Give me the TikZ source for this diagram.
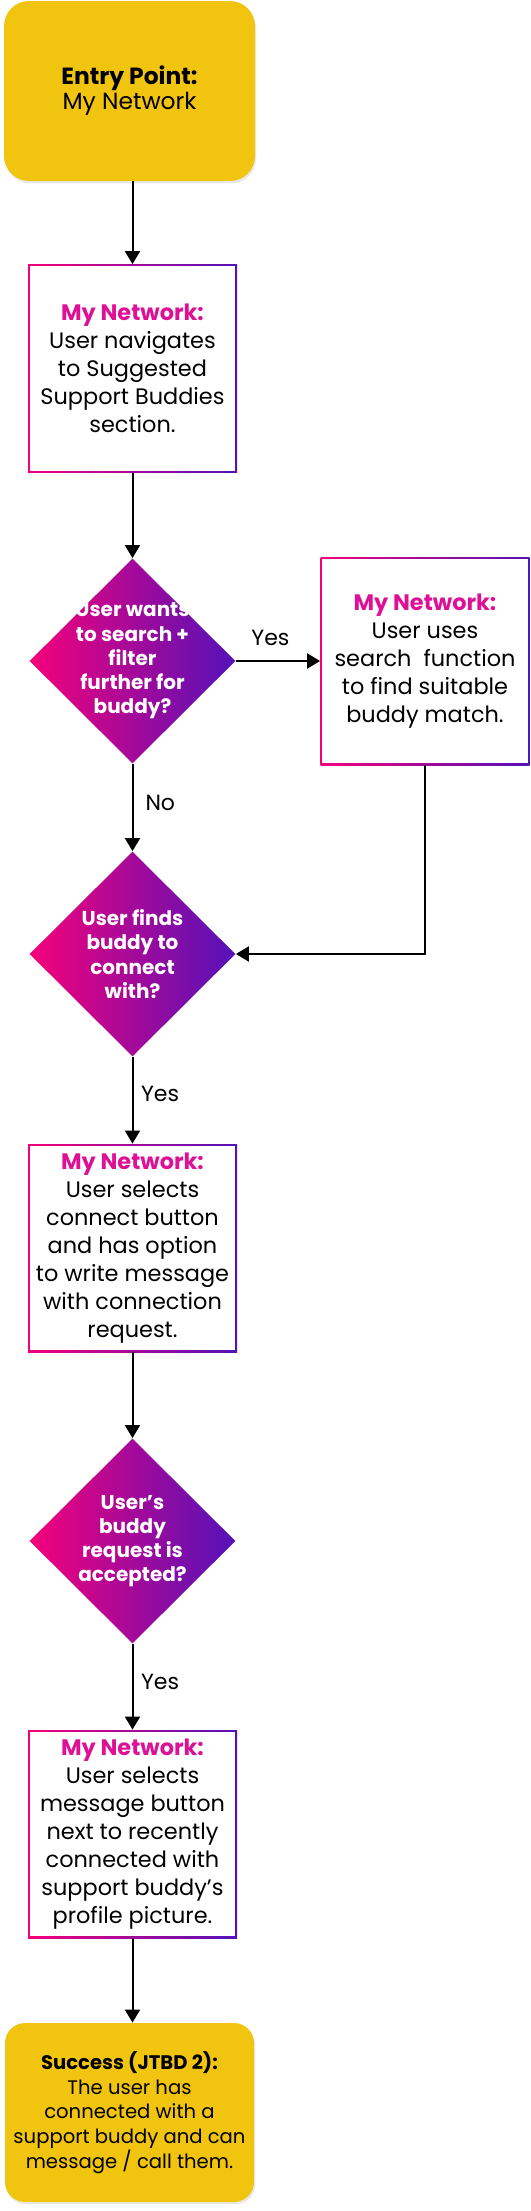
\documentclass[tikz,border=0pt]{standalone}
\usepackage{fontspec}
\setmainfont{Poppins}
\usetikzlibrary{arrows.meta,shapes.geometric,shadows}
\begin{document}
\begin{tikzpicture}[x=0.5pt,y=-0.5pt]
            \definecolor{sun_color}{RGB}{241,196,15}
            \definecolor{pink_color}{RGB}{245,0,122}
            \definecolor{violet_color}{RGB}{84,18,184}
            \definecolor{title_color}{RGB}{222,16,150}
            \tikzstyle{every node} = [align=center, inner sep=0pt]
            \tikzstyle{terminal} = [fill=sun_color, drop shadow={opacity=0.18, shadow xshift=0.6pt, shadow yshift=-1.2pt}]
            \tikzstyle{stepbox} = [minimum width=104.5pt, minimum height=104pt, font=\fontsize{11.2}{14}\selectfont, path picture={
                \shade[left color=pink_color, right color=violet_color] (path picture bounding box.south west) rectangle (path picture bounding box.north east);
                \fill[white] ([shift={(0.85pt,-0.85pt)}]path picture bounding box.north west) rectangle ([shift={(-0.85pt,0.85pt)}]path picture bounding box.south east);}]
            \tikzstyle{decision} = [diamond, minimum width=103pt, minimum height=102.5pt, left color=pink_color, right color=violet_color]
            \tikzstyle{dtext} = [text=white, font=\bfseries\fontsize{10}{12.1}\selectfont]
            \tikzstyle{ann} = [font=\fontsize{11}{13}\selectfont]
            \tikzstyle{arr} = [line width=1pt, -{Triangle[width=7.5pt,length=6.5pt]}]
            \useasboundingbox (0,0) rectangle (530,2211);
            \node[terminal, rounded corners=12.5pt, minimum width=125.5pt, minimum height=90pt, font=\fontsize{11.7}{12.5}\selectfont] (entry) at (129.5,91) {\textbf{Entry Point:}\\My Network};
            \node[stepbox] (b1) at (132.5,368.5) {\textcolor{title_color}{\textbf{My Network:}}\\User navigates\\to Suggested\\Support Buddies\\section.};
            \node[decision] (d1) at (132.5,661) {};
            \node[dtext] (d1t) at (d1) {User wants\\to search +\\filter\\further for\\buddy?};
            \node[stepbox] (b2) at (425,661) {\textcolor{title_color}{\textbf{My Network:}}\\User uses\\search\ \ function\\to find suitable\\buddy match.};
            \node[decision] (d2) at (132.5,954) {};
            \node[dtext] (d2t) at (d2) {User finds\\buddy to\\connect\\with?};
            \node[stepbox] (b3) at (132.5,1248) {\textcolor{title_color}{\textbf{My Network:}}\\User selects\\connect button\\and has option\\to write message\\with connection\\request.};
            \node[decision] (d3) at (132.5,1541) {};
            \node[dtext] (d3t) at (d3) {User’s\\buddy\\request is\\accepted?};
            \node[stepbox] (b4) at (132.5,1834) {\textcolor{title_color}{\textbf{My Network:}}\\User selects\\message button\\next to recently\\connected with\\support buddy’s\\profile picture.};
            \node[terminal, rounded corners=10pt, minimum width=124.5pt, minimum height=89.5pt, font=\fontsize{9.8}{12.4}\selectfont] (succ) at (129.5,2112.5) {\textbf{Success (JTBD 2):}\\The user has\\connected with a\\support buddy and can\\message / call them.};
            \draw[arr] (b1 |- entry.south) -- (b1);
            \draw[arr] (b1) -- (d1);
            \draw[arr] (d1) -- node[ann, above=7pt, pos=0.41] {Yes} (b2);
            \draw[arr] (d1) -- node[ann, right=6pt, pos=0.45] {No} (d2);
            \draw[arr] (b2) |- (d2);
            \draw[arr] (d2) -- node[ann, right=3.8pt, pos=0.43] {Yes} (b3);
            \draw[arr] (b3) -- (d3);
            \draw[arr] (d3) -- node[ann, right=3.8pt, pos=0.44] {Yes} (b4);
            \draw[arr] (b4) -- (b4 |- succ.north);
        \end{tikzpicture}
\end{document}
